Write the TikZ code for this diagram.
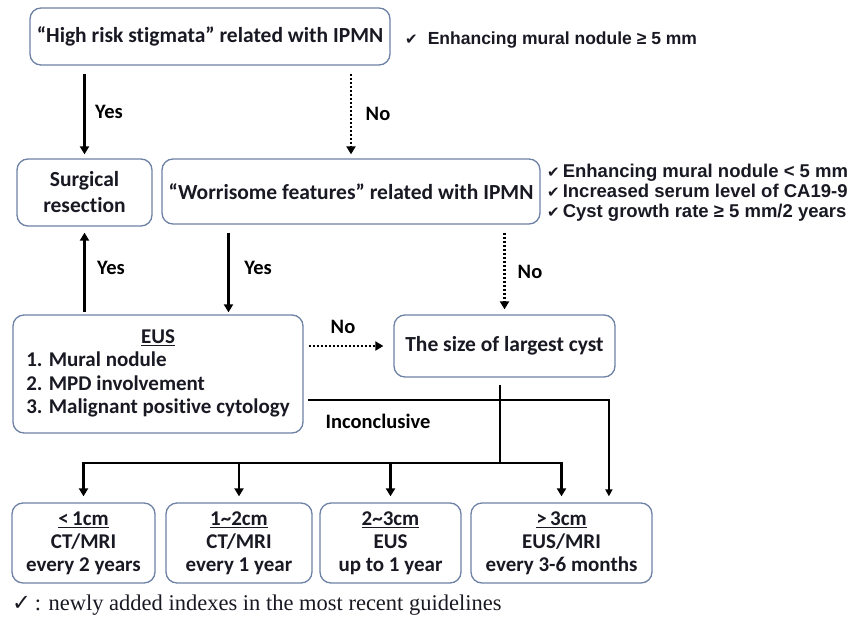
\documentclass[tikz,border=0pt]{standalone}
\usepackage{fontspec}
\setmainfont{Liberation Serif}
\newfontfamily\calfont[Ligatures=NoCommon]{Carlito}
\newfontfamily\arfont{Liberation Sans}
\newfontfamily\djfont{DejaVu Sans}
\usetikzlibrary{arrows.meta,calc}
\definecolor{boxc}{RGB}{110,130,165}
\definecolor{txtc}{RGB}{25,25,35}
\newcommand\ckmark{{\djfont\bfseries\fontsize{15}{15}\selectfont ✔}}
\begin{document}
\begin{tikzpicture}[x=1pt,y=-1pt,
  box/.style={draw=boxc, line width=1.3pt, rounded corners=11pt, fill=white, align=center, inner sep=0pt, text=txtc,
    font=\calfont\bfseries\fontsize{21.5}{26}\selectfont},
  sbox/.style={box, minimum height=80, font=\calfont\bfseries\fontsize{21}{23}\selectfont},
  lbl/.style={inner sep=0pt, font=\calfont\bfseries\fontsize{20.5}{24}\selectfont},
  bul/.style={inner sep=0pt, anchor=west, align=left, text=txtc},
  arr/.style={line width=2.4pt, -{Triangle[length=8pt,width=9pt]}},
  darr/.style={line width=2.4pt, dash pattern=on 2.2pt off 1.8pt, -{Triangle[length=8pt,width=9pt]}},
  thinarr/.style={line width=1.6pt, -{Triangle[length=7pt,width=7pt]}},
  bus/.style={line width=2pt}
]
\fill[white] (0,0) rectangle (864,623);
\useasboundingbox (0,0) rectangle (864,623);

% boxes
\node[box, minimum width=360, minimum height=57] (hr) at (210,36.5) {“High risk stigmata” related with IPMN};
\node[box, minimum width=135, minimum height=67] (sr) at (84.5,192.5) {Surgical\\resection};
\node[box, minimum width=378, minimum height=65] (wf) at (351,191.5) {“Worrisome features” related with IPMN};
\node[box, minimum width=290, minimum height=118, font=\calfont\bfseries\fontsize{21}{23.5}\selectfont] (eus) at (158,374)
  {\raisebox{6pt}{\begin{tabular}{@{}l@{}}\multicolumn{1}{@{}c@{}}{\underline{EUS}}\\1. Mural nodule\\2. MPD involvement\\3. Malignant positive cytology\end{tabular}}};
\node[box, minimum width=221, minimum height=62] (cyst) at (504.5,346) {The size of largest cyst};
\node[sbox, minimum width=143] (b1) at (83.5,543) {\underline{<\,1cm}\\CT/MRI\\every 2 years};
\node[sbox, minimum width=146] (b2) at (239,543) {\underline{1\textasciitilde2cm}\\CT/MRI\\every 1 year};
\node[sbox, minimum width=141] (b3) at (390.5,543) {\underline{2\textasciitilde3cm}\\EUS\\up to 1 year};
\node[sbox, minimum width=181] (b4) at (561.5,543) {\underline{>\,3cm}\\EUS/MRI\\every 3-6 months};

% side notes
\node[bul, font=\arfont\bfseries\fontsize{17.5}{20}\selectfont] (hrn) at (405,40) {\ckmark\hspace{10pt}Enhancing mural nodule ≥ 5 mm};
\node[bul, font=\arfont\bfseries\fontsize{18.5}{20}\selectfont] (wfn) at (547,193)
  {\ckmark\hspace{3pt}Enhancing mural nodule < 5 mm\\\ckmark\hspace{3pt}Increased serum level of CA19-9\\\ckmark\hspace{3pt}Cyst growth rate ≥ 5 mm/2 years};

% labels
\node[lbl] (l1) at (109,112) {Yes};
\node[lbl] (l2) at (378,114) {No};
\node[lbl] (l3) at (111,268) {Yes};
\node[lbl] (l4) at (258,268) {Yes};
\node[lbl] (l5) at (530,272) {No};
\node[lbl] (l6) at (343,327) {No};
\node[lbl] (l7) at (378,421) {Inconclusive};

% connectors
\coordinate (wfy) at ($(wf.south west)!0.177!(wf.south east)$);
\coordinate (incs) at ($(eus.north east)!0.72!(eus.south east)$);
\coordinate (b4in) at ($(b4.north west)!0.76!(b4.north east)$);
\coordinate (cyd) at ($(cyst.south west)!0.48!(cyst.south east)$);
\draw[arr] ([yshift=-8pt]hr.south -| sr.north) -- ([yshift=4pt]sr.north);
\draw[darr] ([yshift=-8pt]hr.south -| wf.north) -- ([yshift=4pt]wf.north);
\draw[arr] ([yshift=2pt]eus.north -| sr.south) -- ([yshift=-6pt]sr.south);
\draw[arr] ([yshift=-8pt]wfy) -- ([yshift=2pt]wfy |- eus.north);
\draw[darr] ([yshift=-8pt]wf.south -| cyst.north) -- ([yshift=5pt]cyst.north);
\draw[darr] ([xshift=5pt]eus.east |- cyst.west) -- ([xshift=-10pt]cyst.west);
\draw[thinarr] ([xshift=4pt]incs) -| ([yshift=6pt]b4in);

\coordinate (bus) at (501,463);
\draw[bus] ([yshift=-7pt]cyd) -- (cyd |- bus);
\draw[arr] (bus) -| ([yshift=6pt]b1.north);
\draw[arr] (bus) -| ([yshift=6pt]b2.north);
\draw[arr] (bus) -| ([yshift=6pt]b3.north);
\draw[arr] (bus) -| ([yshift=6pt]b4.north);

% footer
\node[bul, font=\fontsize{22.5}{26}\selectfont] (foot) at (12,605) {{\djfont ✓}\,: newly added indexes in the most recent guidelines};
\end{tikzpicture}
\end{document}
